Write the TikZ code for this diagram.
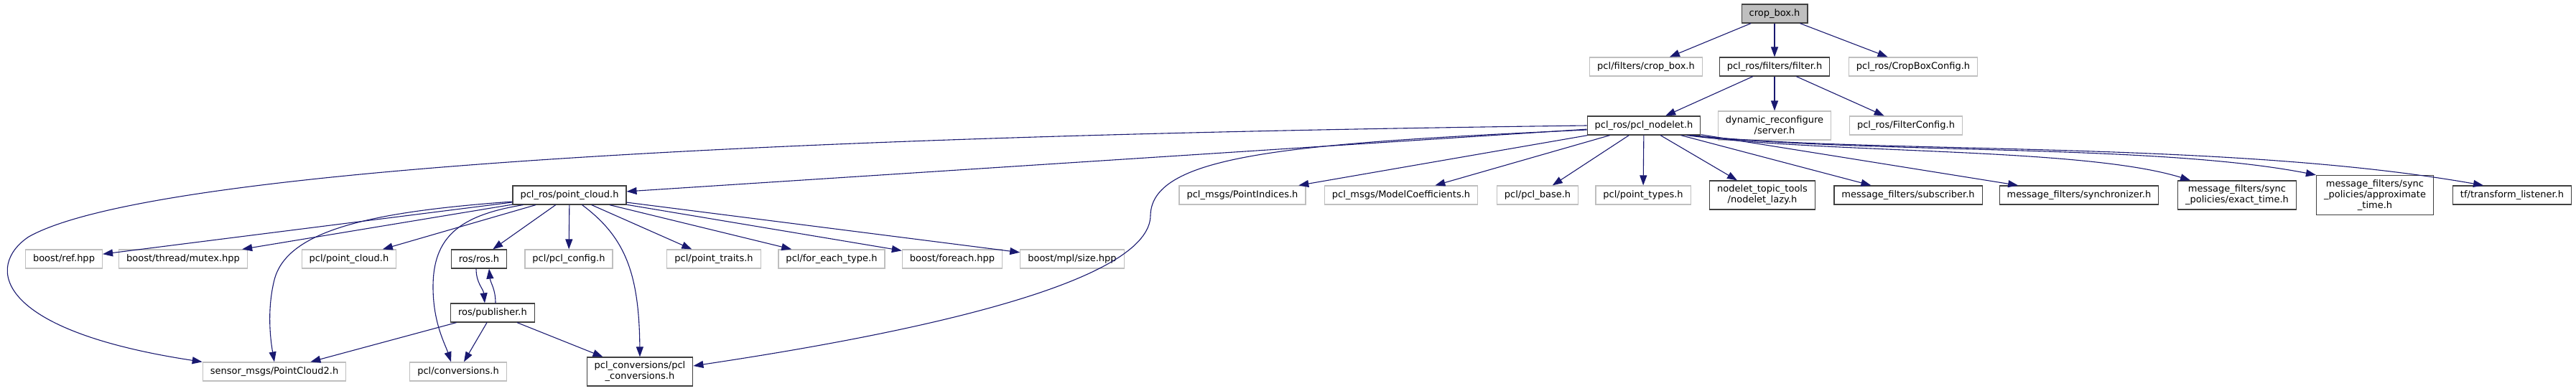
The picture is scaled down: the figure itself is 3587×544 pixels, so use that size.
\documentclass[tikz,border=0pt]{standalone}
\usepackage{fontspec}
\setmainfont{DejaVu Sans}
\usetikzlibrary{arrows.meta,calc,positioning}
\definecolor{inclblue}{HTML}{191970}
\definecolor{boxgrey}{HTML}{BFBFBF}
\definecolor{boxdark}{HTML}{404040}
\tikzset{%
	hdrbox/.style   = {draw, rectangle, line width=1.2pt, minimum height=26pt, inner xsep=10.5pt, inner ysep=2pt, align=center, fill=white, font=\fontsize{13}{15}\selectfont},
	dochdr/.style   = {hdrbox, draw=boxdark}, % documented header
	exthdr/.style   = {hdrbox, draw=boxgrey}, % external header
	roothdr/.style  = {hdrbox, draw=boxdark, fill=boxgrey}, % the file itself
	twoline/.style  = {minimum height=40pt},
	threeline/.style= {minimum height=55pt},
	incl/.style     = {draw=inclblue, line width=1.1pt, -{Triangle[length=14pt,width=10pt]}},
}

\begin{document}
\begin{tikzpicture}[x=1pt,y=-1pt]
	\useasboundingbox (0,0) rectangle (3587,544);

	% top rows
	\node [roothdr] (root) at (2471,19) {crop\_box.h};
	\node [exthdr] (fcrop) at (2292,93) {pcl/filters/crop\_box.h};
	\node [dochdr] (filter) at (2471,93) {pcl\_ros/filters/filter.h};
	\node [exthdr] (cbconf) at (2664,93) {pcl\_ros/CropBoxConfig.h};
	\node [dochdr] (nodelet) at (2289,175) {pcl\_ros/pcl\_nodelet.h};
	\node [exthdr, twoline] (dynrec) at (2471,175) {dynamic\_reconfigure\\/server.h};
	\node [exthdr] (fconf) at (2654,175) {pcl\_ros/FilterConfig.h};

	% includes of pcl_nodelet.h
	\node [dochdr] (pcloud) at (793,272) {pcl\_ros/point\_cloud.h};
	\node [exthdr] (pidx) at (1730,272) {pcl\_msgs/PointIndices.h};
	\node [exthdr] (mcoef) at (1951,272) {pcl\_msgs/ModelCoefficients.h};
	\node [exthdr] (pclbase) at (2141,272) {pcl/pcl\_base.h};
	\node [exthdr] (ptypes) at (2288,272) {pcl/point\_types.h};
	\node [dochdr, twoline] (lazy) at (2454,272) {nodelet\_topic\_tools\\/nodelet\_lazy.h};
	\node [dochdr] (subs) at (2657,272) {message\_filters/subscriber.h};
	\node [dochdr] (sync) at (2895,272) {message\_filters/synchronizer.h};
	\node [dochdr, twoline] (exact) at (3115,272) {message\_filters/sync\\\_policies/exact\_time.h};
	\node [dochdr, threeline] (approx) at (3307,272) {message\_filters/sync\\\_policies/approximate\\\_time.h};
	\node [dochdr] (tf) at (3498,272) {tf/transform\_listener.h};

	% includes of point_cloud.h
	\node [exthdr] (boostref) at (89,361) {boost/ref.hpp};
	\node [exthdr] (mutex) at (255,361) {boost/thread/mutex.hpp};
	\node [exthdr] (pclcloud) at (486,361) {pcl/point\_cloud.h};
	\node [dochdr] (ros) at (667,361) {ros/ros.h};
	\node [exthdr] (pclconf) at (792,361) {pcl/pcl\_config.h};
	\node [exthdr] (traits) at (994,361) {pcl/point\_traits.h};
	\node [exthdr] (eachtype) at (1158,361) {pcl/for\_each\_type.h};
	\node [exthdr] (bforeach) at (1326,361) {boost/foreach.hpp};
	\node [exthdr] (mplsize) at (1493,361) {boost/mpl/size.hpp};
	\node [dochdr] (pub) at (686,436) {ros/publisher.h};
	\node [exthdr] (sensor) at (382,518) {sensor\_msgs/PointCloud2.h};
	\node [exthdr] (conv) at (638,518) {pcl/conversions.h};
	\node [dochdr, twoline] (pclconv) at (891,518) {pcl\_conversions/pcl\\\_conversions.h};

	% connectors
	\foreach \t in {fcrop,filter,cbconf} \draw [incl] (root) -- (\t);
	\foreach \t in {nodelet,dynrec,fconf} \draw [incl] (filter) -- (\t);
	\foreach \t in {pcloud,pidx,mcoef,pclbase,ptypes,lazy,subs,sync} \draw [incl] (nodelet) -- (\t);
	\draw [incl] (nodelet.west) .. controls (1000,190) and (200,240) .. (40,330)
		.. controls (-20,370) and (-10,460) .. (sensor.north west);
	\draw [incl] ([yshift=-6pt]nodelet.west) .. controls (1800,200) and (1604,215) .. (1602,300)
		.. controls (1602,390) and (1300,460) .. ([yshift=8pt]pclconv.east);
	\draw [incl] ([xshift=-20pt]nodelet.south east) .. controls (2550,215) and (2900,205) .. ([xshift=-65pt]exact.north);
	\draw [incl] ([xshift=-16pt]nodelet.south east) .. controls (2600,215) and (3000,200) .. (approx.north west);
	\draw [incl] ([xshift=-12pt]nodelet.south east) .. controls (2600,215) and (3100,195) .. ([xshift=-40pt]tf.north);

	\foreach \t in {boostref,mutex,pclcloud,ros,pclconf,traits,eachtype,bforeach,mplsize} \draw [incl] (pcloud) -- (\t);
	\draw [incl] ([yshift=-9pt]pcloud.west) .. controls (520,295) and (400,320) .. (382,390)
		.. controls (372,430) and (376,470) .. (sensor.north);
	\draw [incl] ([xshift=15pt]pcloud.south west) .. controls (640,300) and (603,330) .. (603,400)
		.. controls (603,450) and (620,480) .. ([xshift=-10pt]conv.north);
	\draw [incl] ([xshift=-62pt]pcloud.south east) .. controls (870,330) and (890,380) .. (pclconv.north);

	\draw [incl] ([xshift=-4pt]ros.south) .. controls +(0,20) and +(-2,-20) .. ([xshift=-11pt]pub.north);
	\draw [incl] ([xshift=4pt]pub.north) .. controls +(0,-20) and +(2,20) .. ([xshift=14pt]ros.south);
	\foreach \t in {sensor,conv,pclconv} \draw [incl] (pub) -- (\t);
\end{tikzpicture}
\end{document}
